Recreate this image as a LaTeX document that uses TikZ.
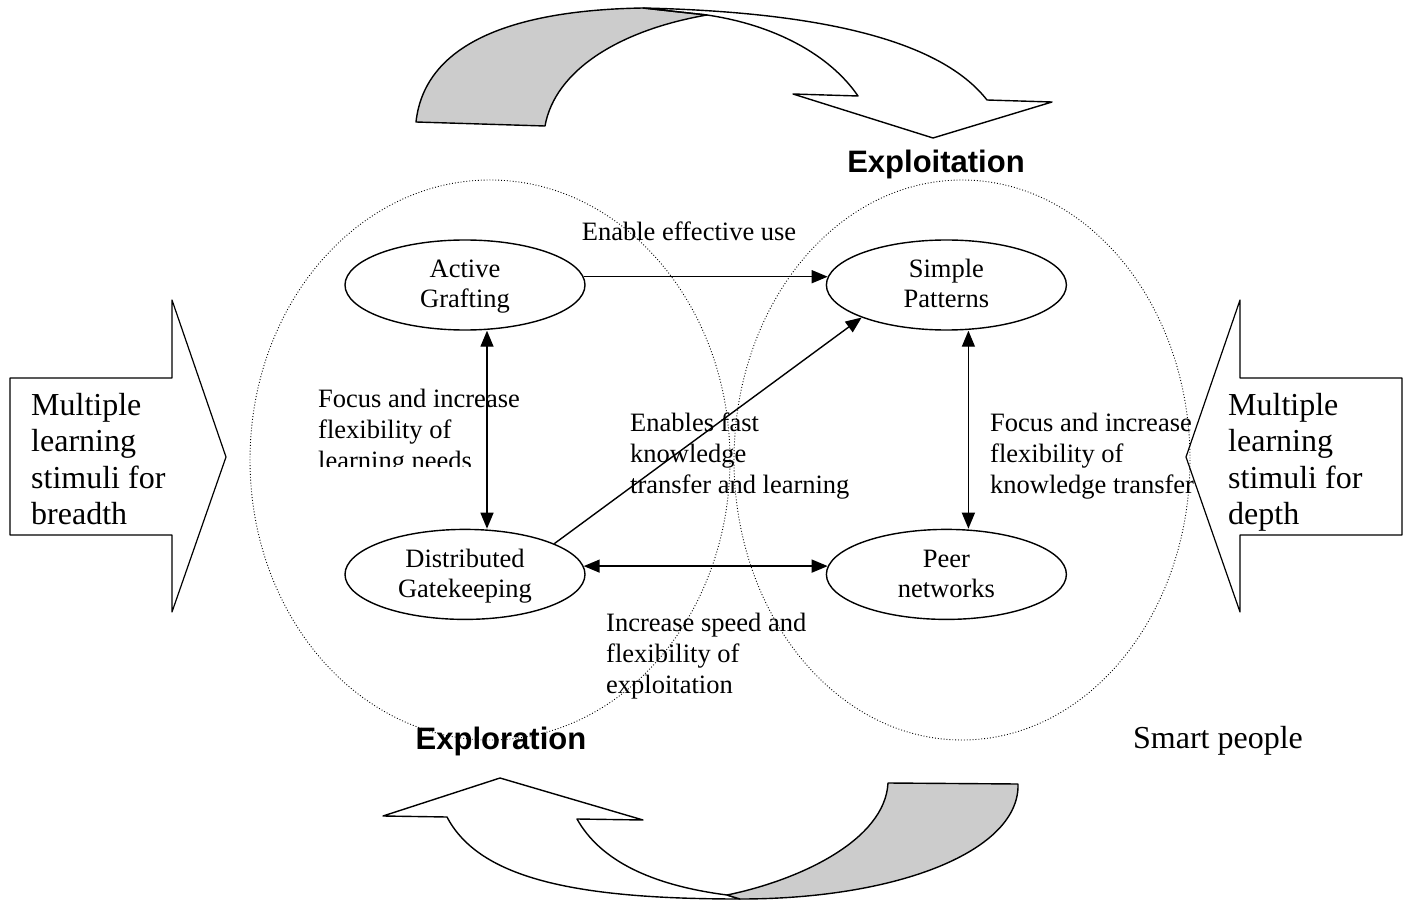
\documentclass[tikz,border=0pt]{standalone}
\usepackage{fontspec}
\setmainfont{Liberation Serif}
\newfontfamily\headfont{Liberation Sans}
\usetikzlibrary{shapes.geometric,arrows.meta,positioning}
\definecolor{bandgray}{gray}{0.8}
\newcommand\ellstrut{\rule[-7pt]{0pt}{30pt}}
\tikzset{
  stage/.style={ellipse,draw,line width=1.4pt,minimum width=240pt,minimum height=90pt,
    inner sep=0pt,align=center,font=\fontsize{26.5}{30}\selectfont},
  zone/.style={draw,dotted,line width=0.9pt},
  note/.style={anchor=north west,inner sep=0pt,align=left,font=\fontsize{26.5}{30.8}\selectfont},
  stimulus/.style={anchor=north west,inner sep=0pt,align=left,font=\fontsize{32}{36.3}\selectfont},
  heading/.style={anchor=base,inner sep=0pt,font=\headfont\bfseries\fontsize{31}{36}\selectfont},
  link/.style={line width=1.4pt,-{Triangle[length=16pt,width=13pt]}},
  twoway/.style={link,{Triangle[length=16pt,width=13pt]}-{Triangle[length=16pt,width=13pt]}},
  band/.style={draw,line width=1.4pt,line join=round}
}

\begin{document}
\begin{tikzpicture}[x=1pt,y=-1pt]
      \useasboundingbox (0,0) rectangle (1408,901);

      % exploration / exploitation zones
      \draw[zone] (490,460) ellipse [x radius=240,y radius=280];
      \draw[zone] (962,460) ellipse [x radius=228,y radius=280];

      \node[stage] (ag) at (465,285) {\ellstrut Active\\Grafting\ellstrut};
      \node[stage,right=240pt of ag] (sp) {\ellstrut Simple\\Patterns\ellstrut};
      \node[stage,below=198pt of ag] (dg) {\ellstrut Distributed\\Gatekeeping\ellstrut};
      \node[stage,right=240pt of dg] (pn) {\ellstrut Peer\\networks\ellstrut};

      \draw[link] (ag.4) -- (sp.176);
      \draw[twoway] ([xshift=22pt]ag.south) -- ([xshift=22pt]dg.north);
      \draw[link] (dg.19) -- (sp.201);
      \draw[twoway] (dg.4) -- (pn.176);
      \draw[twoway] ([xshift=22pt]sp.south) -- ([xshift=22pt]pn.north);

      \node[note,anchor=center] (use) at (689,231) {Enable effective use};
      \begin{scope}
        \clip (300,380) rectangle (560,466);
        \node[note] (needs) at (318,389) {Focus and increase\\flexibility of\\learning needs};
      \end{scope}
      \node[note] (fast) at (630,413) {Enables fast\\knowledge\\transfer and learning};
      \node[note] (transfer) at (990,413) {Focus and increase\\flexibility of\\knowledge transfer};
      \node[note] (speed) at (606,613) {Increase speed and\\flexibility of\\exploitation};

      \node[heading] (exploit) at (936,173) {Exploitation};
      \node[heading] (explore) at (501,749) {Exploration};
      \node[anchor=base,inner sep=0pt,font=\fontsize{32}{36}\selectfont] (smart) at (1218,748) {Smart people};

      % stimuli arrows
      \draw[band,line width=1.2pt] (10,378) -- (172,378) -- (172,300) -- (226,457) -- (172,612)
        -- (172,535) -- (10,535) -- cycle;
      \node[stimulus] (breadth) at (31,393) {Multiple\\learning\\stimuli for\\breadth};
      \draw[band,line width=1.2pt] (1402,378) -- (1240,378) -- (1240,300) -- (1186,457) -- (1240,612)
        -- (1240,535) -- (1402,535) -- cycle;
      \node[stimulus] (depth) at (1228,393) {Multiple\\learning\\stimuli for\\depth};

      % curved bands
      \draw[band,fill=bandgray] (416,122) .. controls (425,40) and (520,10) .. (643,8) -- (707,15)
        .. controls (620,30) and (555,70) .. (545,126) -- cycle;
      \draw[band] (643,8) .. controls (820,12) and (940,40) .. (987,100) -- (1052,102) -- (933,138)
        -- (793,94) -- (858,96) .. controls (830,55) and (775,25) .. (707,15) -- cycle;
      \draw[band] (727,895) .. controls (650,885) and (600,860) .. (577,819) -- (643,820) -- (500,778)
        -- (383,816) -- (447,817) .. controls (480,880) and (580,899) .. (740,899) -- cycle;
      \draw[band,fill=bandgray] (888,783) -- (1018,784) .. controls (1020,850) and (900,899) .. (740,899)
        -- (727,895) .. controls (800,880) and (885,840) .. (888,783) -- cycle;
\end{tikzpicture}
\end{document}
